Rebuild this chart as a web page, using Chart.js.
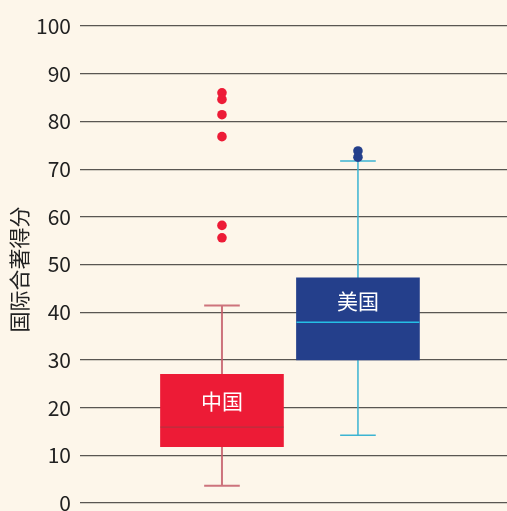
<!DOCTYPE html>
<html>
<head>
<meta charset="utf-8">
<script src="https://cdn.jsdelivr.net/npm/chart.js@4/dist/chart.umd.min.js"></script>
<style>
html,body{margin:0;padding:0;background:#fdf6ea;}
#wrap{width:507px;height:511px;position:relative;}
</style>
</head>
<body>
<div id="wrap"><canvas id="c" width="507" height="511"></canvas></div>
<script>
// ---- data ----
const categories = ['中国', '美国'];
const q1 = [11.8, 30.0];
const q3 = [27.0, 47.2];
const medians = [15.9, 37.9];
const whiskerLow = [3.6, 14.2];
const whiskerHigh = [41.4, 71.7];
const outliers = [
  [86.0, 84.6, 81.4, 76.8, 58.2, 55.6],
  [73.8, 72.5]
];
const yTicks = [0, 10, 20, 30, 40, 50, 60, 70, 80, 90, 100];
const yTitle = '国际合著得分';

// ---- styles ----
const boxColors = ['#ed1b36', '#243f8b'];
const medianColors = ['#b5323f', '#25bfe6'];
const whiskerColors = ['rgba(196,92,104,0.85)', '#3cb4d2'];
const whiskerWidths = [2, 1.5];
const capHalf = 0.131;
const boxHalf = 0.452;
const labelOffsetPx = [27, 23];
const FONT = "'Noto Sans CJK SC', 'Noto Sans', sans-serif";

const datasets = [];
categories.forEach((cat, i) => {
  const x = i + 1;
  datasets.push({
    type: 'line', order: 3,
    data: [
      {x: x, y: whiskerLow[i]}, {x: x, y: whiskerHigh[i]}, {x: x, y: null},
      {x: x - capHalf, y: whiskerHigh[i]}, {x: x + capHalf, y: whiskerHigh[i]}, {x: x, y: null},
      {x: x - capHalf, y: whiskerLow[i]}, {x: x + capHalf, y: whiskerLow[i]}
    ],
    borderColor: whiskerColors[i], borderWidth: whiskerWidths[i],
    pointRadius: 0, spanGaps: false, tension: 0, borderCapStyle: 'butt'
  });
});
datasets.push({
  type: 'bar', order: 2,
  data: categories.map((c, i) => ({x: i + 1, y: [q1[i], q3[i]]})),
  backgroundColor: boxColors, borderWidth: 0,
  barThickness: 123, grouped: false
});
categories.forEach((cat, i) => {
  const x = i + 1;
  datasets.push({
    type: 'line', order: 1,
    data: [{x: x - boxHalf, y: medians[i]}, {x: x + boxHalf, y: medians[i]}],
    borderColor: medianColors[i], borderWidth: i === 0 ? 1.2 : 1.5,
    pointRadius: 0
  });
  datasets.push({
    type: 'scatter', order: 0,
    data: outliers[i].map(v => ({x: x, y: v})),
    backgroundColor: boxColors[i], borderWidth: 0,
    pointRadius: 4.8
  });
});

const labelPlugin = {
  id: 'boxLabels',
  afterDatasetsDraw(chart) {
    const ctx = chart.ctx, xs = chart.scales.x, ys = chart.scales.y;
    ctx.save();
    ctx.fillStyle = '#ffffff';
    ctx.font = "400 21px " + FONT;
    ctx.textAlign = 'center';
    ctx.textBaseline = 'middle';
    categories.forEach((cat, i) => {
      ctx.fillText(cat, xs.getPixelForValue(i + 1), ys.getPixelForValue(q3[i]) + labelOffsetPx[i]);
    });
    ctx.restore();
    // y-axis title
    const ca = chart.chartArea;
    ctx.save();
    ctx.fillStyle = '#222';
    ctx.font = "21px " + FONT;
    ctx.textAlign = 'center';
    ctx.textBaseline = 'middle';
    ctx.translate(19, (ca.top + ca.bottom) / 2 + 5);
    ctx.rotate(-Math.PI / 2);
    ctx.fillText(yTitle, 0, 0);
    ctx.restore();
  }
};

new Chart(document.getElementById('c'), {
  type: 'bar',
  data: {datasets},
  options: {
    responsive: false, animation: false,
    layout: {autoPadding: false, padding: {top: 26, bottom: 8, left: 0, right: 0}},
    plugins: {legend: {display: false}, tooltip: {enabled: false}},
    scales: {
      x: {
        type: 'linear', min: -0.044, max: 3.096, offset: false,
        display: false
      },
      y: {
        min: 0, max: 100,
        afterBuildTicks(s) { s.ticks = yTicks.map(v => ({value: v})); },
        afterFit(s) { s.width = 80; s.paddingTop = 0; s.paddingBottom = 0; },
        border: {display: false},
        grid: {color: 'rgba(60,58,55,0.85)', lineWidth: 1.2, drawTicks: false},
        ticks: {color: '#222', padding: 9, font: {size: 21, family: FONT}},
        title: {display: false}
      }
    }
  },
  plugins: [labelPlugin]
});
</script>
</body>
</html>
